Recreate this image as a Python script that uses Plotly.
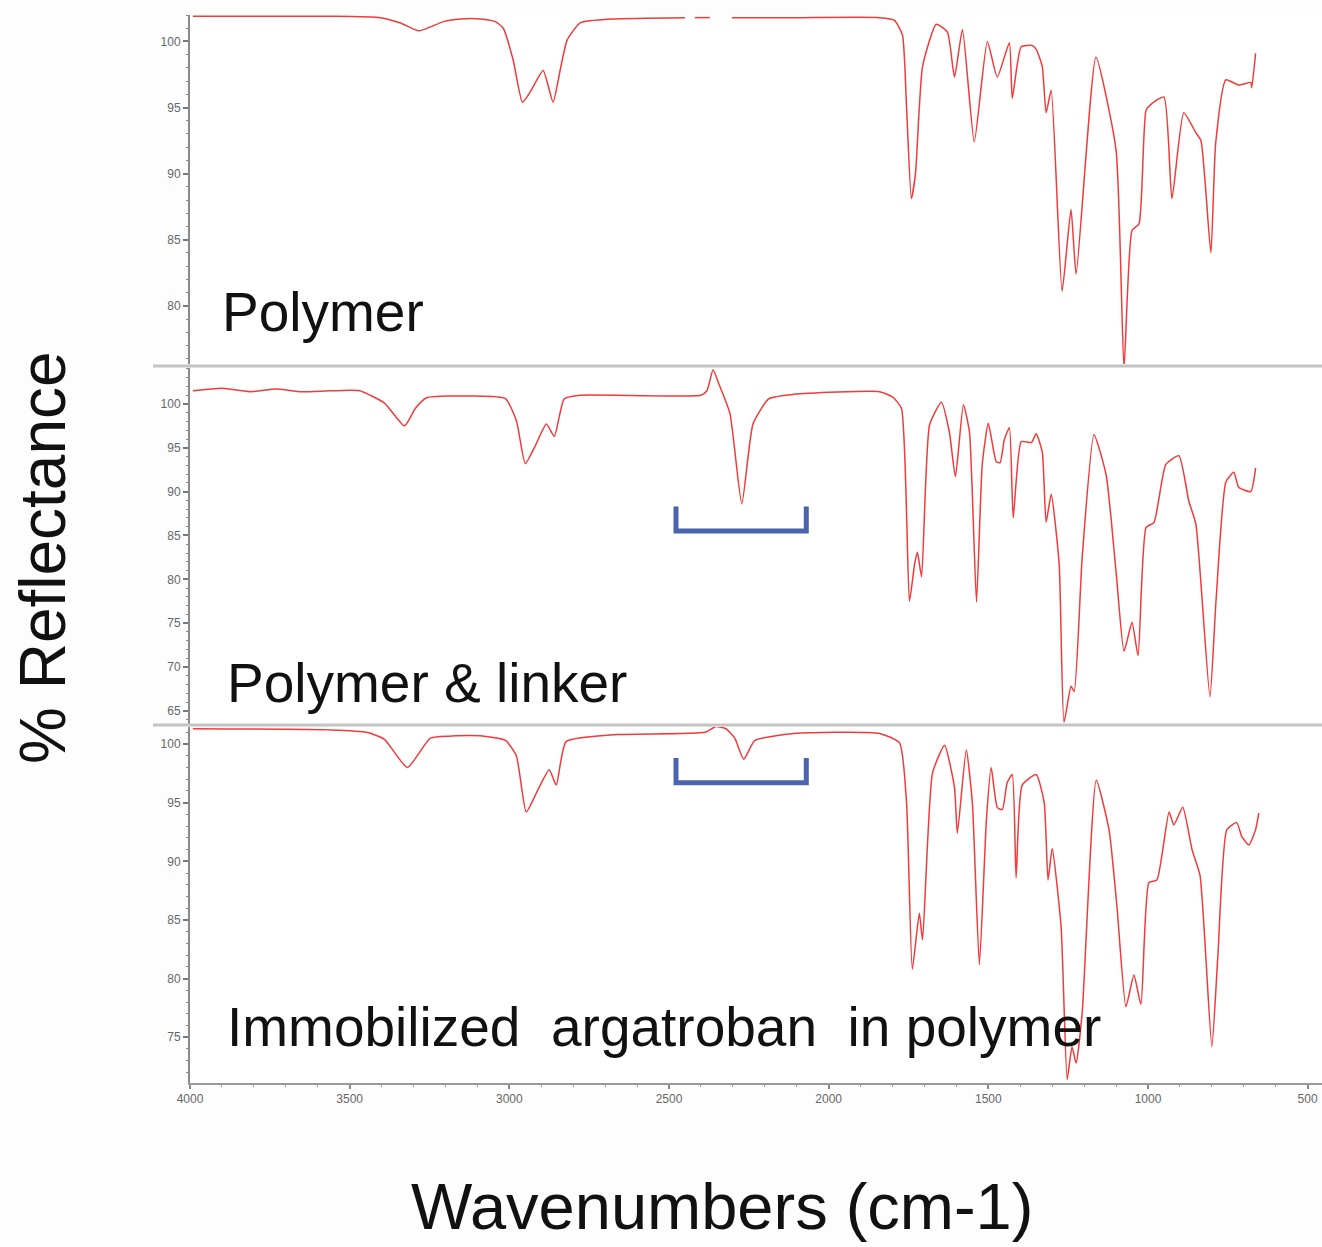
import plotly.graph_objects as go

# ---------------- data (wavenumber cm-1, % reflectance) ----------------
wn_polymer = [3991, 3809, 3559, 3403, 3341, 3284, 3247, 3206, 3153, 3091, 3044, 3019,
              2988, 2959, 2934, 2894, 2863, 2841, 2819, 2778, 2675, 2450, None, 2419,
              2372, None, 2303, 2090, 1841, 1794, 1769, 1756, 1741, 1728, 1706, 1663,
              1628, 1606, 1581, 1544, 1503, 1472, 1434, 1425, 1397, 1363, 1350, 1331,
              1319, 1303, 1269, 1241, 1225, 1163, 1100, 1075, 1050, 1028, 1006, 988,
              950, 925, 888, 850, 834, 803, 788, 756, 716, 678, 675, 663]
r_polymer = [101.9, 101.9, 101.9, 101.8, 101.4, 100.8, 101.1, 101.5, 101.7, 101.7, 101.5, 101.0,
             98.6, 95.4, 96.2, 97.8, 95.4, 97.8, 100.1, 101.4, 101.7, 101.8, None, 101.8,
             101.8, None, 101.8, 101.8, 101.8, 101.6, 100.5, 95.0, 88.1, 90.0, 98.1, 101.3,
             100.7, 97.3, 100.9, 92.4, 100.0, 97.3, 99.9, 95.7, 99.6, 99.7, 99.4, 98.1,
             94.6, 96.3, 81.1, 87.3, 82.4, 98.8, 91.8, 75.3, 85.7, 86.2, 94.8, 95.3,
             95.8, 88.1, 94.6, 93.1, 92.5, 84.0, 92.3, 97.1, 96.7, 96.9, 96.5, 99.1]

wn_linker = [3991, 3900, 3809, 3730, 3653, 3559, 3469, 3391, 3328, 3294, 3259, 3112, 3012,
             2978, 2950, 2919, 2884, 2859, 2828, 2778, 2400, 2381, 2362, 2344, 2309,
             2272, 2237, 2187, 2109, 1841, 1800, 1772, 1747, 1731, 1722, 1709, 1684,
             1647, 1622, 1603, 1578, 1559, 1537, 1519, 1500, 1475, 1463, 1450, 1434,
             1422, 1397, 1365, 1350, 1331, 1319, 1303, 1278, 1263, 1241, 1231, 1206,
             1169, 1131, 1100, 1075, 1050, 1031, 1006, 981, 944, 903, 872, 850, 806,
             787, 756, 731, 716, 678, 663]
r_linker = [101.5, 101.8, 101.4, 101.7, 101.4, 101.5, 101.5, 100.1, 97.5, 99.5, 100.7, 100.9, 100.6,
            98.1, 93.2, 95.2, 97.7, 96.3, 100.6, 101.0, 101.0, 101.5, 103.9, 102.3, 98.9,
            88.6, 97.7, 100.6, 101.1, 101.4, 100.8, 99.5, 77.5, 81.7, 83.1, 80.3, 97.6,
            100.2, 96.8, 91.7, 99.9, 96.8, 77.4, 93.1, 97.8, 93.4, 93.3, 95.9, 97.3,
            87.0, 95.7, 95.6, 96.6, 94.5, 86.5, 89.7, 81.7, 63.7, 67.8, 67.2, 82.5,
            96.5, 91.9, 80.9, 71.8, 75.1, 71.3, 85.9, 86.5, 93.1, 94.1, 88.9, 86.3, 66.6,
            77.5, 91.1, 92.2, 90.5, 90.0, 92.7]

wn_immob = [3991, 3559, 3447, 3391, 3319, 3247, 3169, 3091, 3012, 2978, 2947, 2912, 2875,
            2853, 2822, 2666, 2387, 2353, 2322, 2294, 2266, 2231, 2109, 1841, 1778, 1756,
            1738, 1716, 1706, 1675, 1637, 1606, 1597, 1569, 1550, 1528, 1506, 1491, 1472,
            1456, 1441, 1425, 1413, 1394, 1350, 1325, 1313, 1300, 1272, 1253, 1238, 1225,
            1206, 1162, 1122, 1097, 1069, 1044, 1022, 997, 972, 934, 919, 891, 862, 837,
            800, 781, 753, 722, 706, 684, 663, 653]
r_immob = [101.3, 101.2, 101.0, 100.4, 98.0, 100.5, 100.7, 100.7, 100.3, 99.0, 94.2, 96.0, 97.8,
           96.5, 100.2, 100.8, 101.0, 101.5, 101.3, 100.5, 98.7, 100.3, 100.9, 100.9, 100.1, 95.0,
           80.8, 85.6, 83.3, 97.5, 99.9, 96.3, 92.4, 99.5, 95.0, 81.2, 93.5, 98.0, 94.6,
           94.4, 96.7, 97.4, 88.6, 96.5, 97.4, 95.0, 88.4, 91.1, 84.4, 71.4, 74.2, 72.8,
           77.1, 96.9, 92.7, 86.1, 77.6, 80.3, 77.8, 88.2, 88.4, 94.2, 93.1, 94.6, 91.0, 88.8,
           74.2, 82.0, 92.7, 93.3, 92.1, 91.4, 92.7, 94.1]

panel_labels = ["Polymer", "Polymer &amp; linker", "Immobilized&nbsp; argatroban&nbsp; in polymer"]
x_tickvals = [4000, 3500, 3000, 2500, 2000, 1500, 1000, 500]
x_ticktext = ["4000", "3500", "3000", "2500", "2000", "1500", "1000", "500"]
bracket_wn = [2478, 2070]          # marked region (cm-1)
bracket2_r = [88.3, 85.5]          # top / bottom of bracket in panel 2
bracket3_r = [98.8, 96.7]          # top / bottom of bracket in panel 3

# ---------------- figure ----------------
W, H = 1322, 1247
RED = "#f23a3a"
GREY_TXT = "#666666"
FONT = "Liberation Sans, Arial, sans-serif"

fig = go.Figure()
for wn, r, ya in [(wn_polymer, r_polymer, "y"), (wn_linker, r_linker, "y2"), (wn_immob, r_immob, "y3")]:
    fig.add_trace(go.Scatter(x=wn, y=r, mode="lines", yaxis=ya, xaxis="x",
                             line=dict(color=RED, width=1.5, shape="spline", smoothing=0.5),
                             connectgaps=False, showlegend=False, hoverinfo="skip"))

def pd(px_top, px_bot):
    return [1 - px_bot / H, 1 - px_top / H]

yaxis_common = dict(anchor="x", showgrid=False, zeroline=False, showline=True, automargin=False,
                    linecolor="#8a8a8a", linewidth=2, ticks="outside", ticklen=5,
                    tickcolor="#777777", tickwidth=1.5, dtick=5,
                    tickfont=dict(family=FONT, size=12, color=GREY_TXT),
                    minor=dict(dtick=1, ticks="outside", ticklen=2, tickcolor="#888888", tickwidth=1))

fig.update_layout(
    width=W, height=H,
    margin=dict(l=0, r=0, t=0, b=0, autoexpand=False),
    paper_bgcolor="#fdfdfd", plot_bgcolor="#ffffff",
    xaxis=dict(domain=[190 / W, 1.0], range=[4000, 455], anchor="y3", automargin=False,
               tickvals=x_tickvals, ticktext=x_ticktext,
               showgrid=False, zeroline=False, showline=True, linecolor="#9a9a9a", linewidth=2,
               ticks="outside", ticklen=4, tickcolor="#888888", tickwidth=1.5,
               tickfont=dict(family=FONT, size=12, color=GREY_TXT),
               minor=dict(dtick=100, ticks="outside", ticklen=2, tickcolor="#999999", tickwidth=1)),
    yaxis=dict(domain=pd(15, 364), range=[75.6, 102.0], **yaxis_common),
    yaxis2=dict(domain=pd(368, 724), range=[63.5, 104.1], **yaxis_common),
    yaxis3=dict(domain=pd(727, 1083), range=[71.1, 101.45], **yaxis_common),
)

# panel separators
for py in [366, 725]:
    fig.add_shape(type="line", xref="paper", yref="paper", x0=153 / W, x1=1.0,
                  y0=1 - py / H, y1=1 - py / H, line=dict(color="#c4c4c4", width=3))

# brackets
for yref, (rt, rb) in [("y2", bracket2_r), ("y3", bracket3_r)]:
    x0, x1 = bracket_wn
    fig.add_shape(type="path", xref="x", yref=yref,
                  path=f"M {x0},{rt} L {x0},{rb} L {x1},{rb} L {x1},{rt}",
                  line=dict(color="#4a64ae", width=5))

# panel labels
for txt, py, px in zip(panel_labels, [312, 683, 1027], [220, 225, 225]):
    fig.add_annotation(text=txt, xref="paper", yref="paper", x=px / W, y=1 - py / H,
                       xanchor="left", yanchor="middle", showarrow=False,
                       font=dict(family=FONT, size=55, color="#111111"))

# axis titles
fig.add_annotation(text="Wavenumbers (cm-1)", xref="paper", yref="paper",
                   x=722 / W, y=1 - 1206 / H, xanchor="center", yanchor="middle",
                   showarrow=False, font=dict(family=FONT, size=65, color="#111111"))
fig.add_annotation(text="% Reflectance", xref="paper", yref="paper",
                   x=43 / W, y=1 - 558 / H, xanchor="center", yanchor="middle", textangle=-90,
                   showarrow=False, font=dict(family=FONT, size=64, color="#111111"))

fig.write_html("out.html", config={"displayModeBar": False},
               post_script="document.body.style.margin='0';document.body.style.overflow='hidden';")
